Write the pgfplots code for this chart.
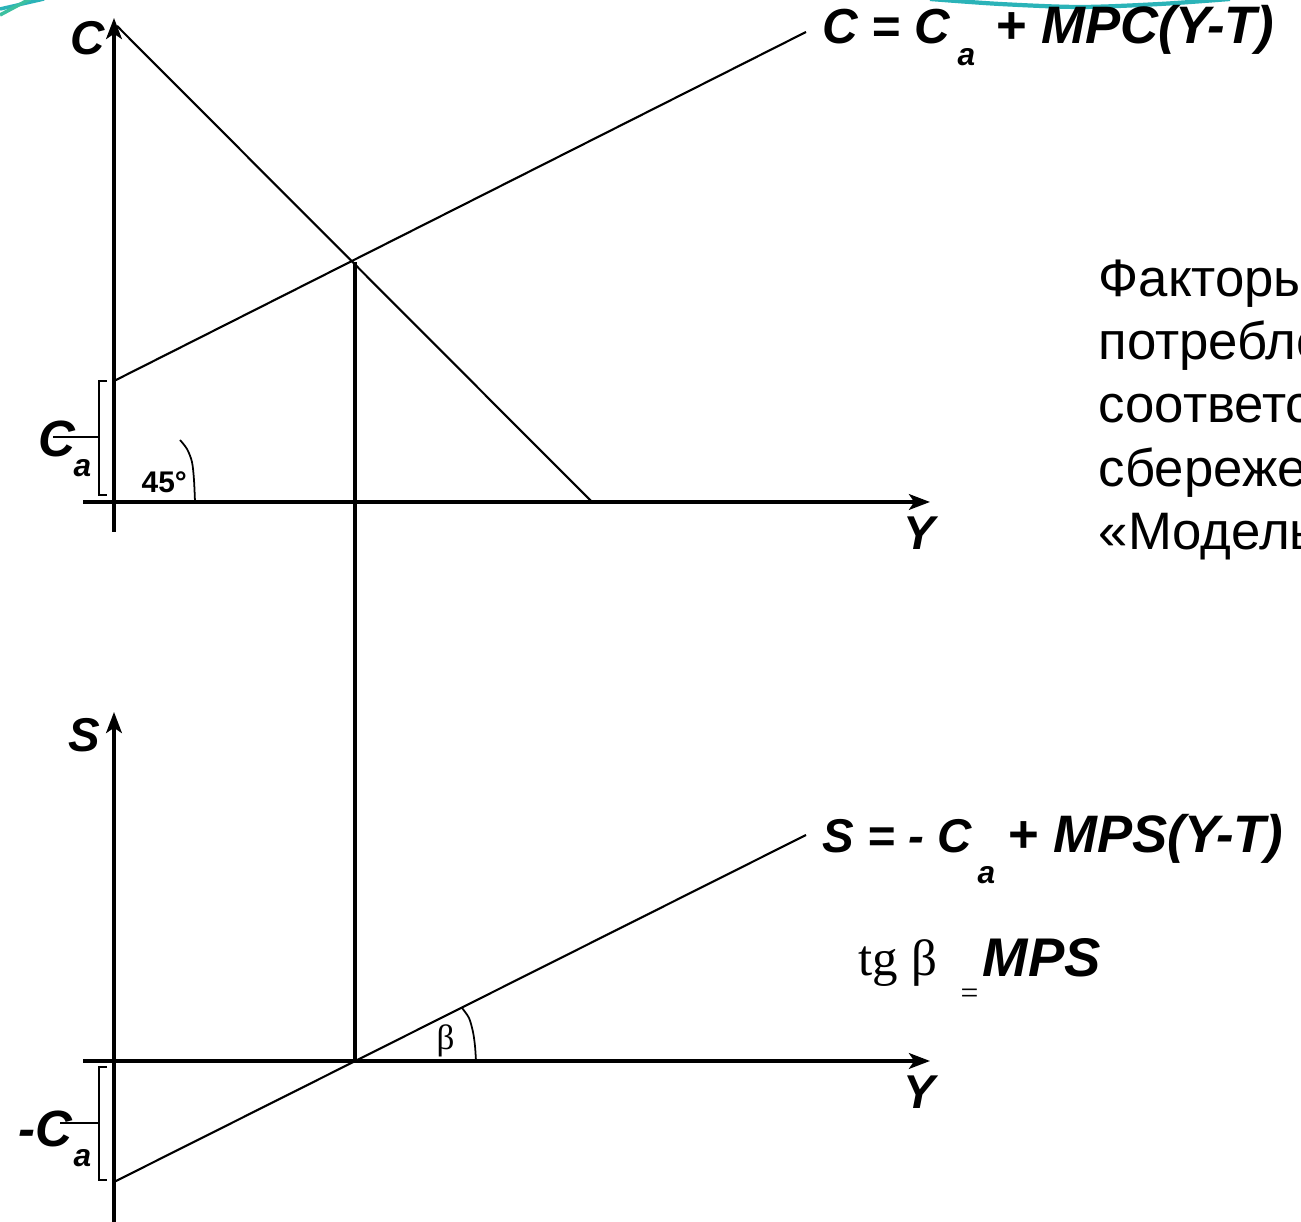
\documentclass[border=0pt]{standalone}
\usepackage{fontspec}
\setmainfont{Liberation Sans}
\newfontfamily\timesf{Liberation Serif}
\usepackage{pgfplots}
\pgfplotsset{compat=1.18}
\usetikzlibrary{arrows.meta}
\definecolor{tealA}{HTML}{2BB3B8}
\definecolor{tealB}{HTML}{3CC0A0}
\newcommand{\fs}[1]{\fontsize{#1}{#1}\selectfont}
\tikzset{
    lbl/.style={inner sep=0pt, anchor=base west},
    big/.style={font=\fs{13.5pt}\bfseries\itshape},
    eq/.style={font=\fs{15pt}\bfseries\itshape},
    sub/.style={font=\fs{9pt}\bfseries\itshape},
    ax/.style={line width=0.9pt, -{Stealth[length=6pt,width=4.5pt,inset=1.5pt]}},
}

\begin{document}
\begin{tikzpicture}
\useasboundingbox (0,0) rectangle (13.01,12.22);
\clip (0,0) rectangle (13.01,12.22);
\fill[white] (0,0) rectangle (13.01,12.22);
\begin{axis}[
    at={(0,0)}, anchor=south west,
    scale only axis, width=13.01cm, height=12.22cm,
    xmin=0, xmax=1301, ymin=0, ymax=1222, y dir=reverse,
    hide axis, clip=false,
    every axis plot/.append style={black},
]
% axes
\addplot[ax] coordinates {(114,532) (114,18)};
\addplot[ax] coordinates {(83,502) (930,502)};
\addplot[ax] coordinates {(114,1222) (114,712)};
\addplot[ax] coordinates {(83,1061) (930,1061)};
% lines
\addplot[line width=0.6pt] coordinates {(117,26) (592,502)};
\addplot[line width=0.6pt] coordinates {(114,381) (806,32)};
\addplot[line width=0.9pt] coordinates {(355,262) (355,1061)};
\addplot[line width=0.6pt] coordinates {(114,1182) (806,835)};
% brackets
\addplot[line width=0.5pt] coordinates {(107,381) (99,381) (99,495) (107,495)};
\addplot[line width=0.5pt] coordinates {(53,437) (99,437)};
\addplot[line width=0.5pt] coordinates {(107,1067) (99,1067) (99,1180) (107,1180)};
\addplot[line width=0.5pt] coordinates {(60,1123) (99,1123)};
% angle arcs
\addplot[line width=0.5pt, smooth] coordinates {(180,440) (187,449) (192,462) (194,480) (195,502)};
\addplot[line width=0.5pt, smooth] coordinates {(462,1008) (469,1018) (473,1032) (475,1046) (476,1061)};
% slide decoration
\addplot[tealA, line width=1pt] coordinates {(0,9) (44,-1)};
\addplot[tealB, line width=1pt] coordinates {(0,15) (30,-1)};
\addplot[tealA, line width=1.2pt, smooth] coordinates {(930,-1) (1000,4) (1080,7) (1160,4) (1230,-1)};

% labels
\node[lbl, big] at (axis cs:70,55) {C};
\node[lbl, big] at (axis cs:68,752) {S};
\node[lbl, big] at (axis cs:903,550) {Y};
\node[lbl, big] at (axis cs:903,1109) {Y};
\node[lbl, font=\fs{14.5pt}\bfseries\itshape] at (axis cs:38,457) {C};
\node[lbl, sub] at (axis cs:73,477) {a};
\node[lbl, font=\fs{14.5pt}\bfseries\itshape] at (axis cs:18,1147) {-C};
\node[lbl, sub] at (axis cs:73,1167) {a};
\node[lbl, font=\fs{8.5pt}\bfseries] at (axis cs:141,493) {45°};
\node[lbl, font=\fs{10pt}\timesf] at (axis cs:436,1050) {β};

\node[lbl, font=\fs{14pt}\bfseries\itshape] at (axis cs:822,44) {C = C};
\node[lbl, sub] at (axis cs:957,66) {a};
\node[lbl, eq] at (axis cs:995,44) {+ MPC(Y-T)};
\node[lbl, big] at (axis cs:822,853) {S = - C};
\node[lbl, sub] at (axis cs:977,884) {a};
\node[lbl, eq] at (axis cs:1007,853) {+ MPS(Y-T)};
\node[lbl, font=\fs{14.5pt}\timesf] at (axis cs:858,976) {tg β};
\node[lbl, font=\fs{9pt}\timesf] at (axis cs:960,1004) {=};
\node[lbl, font=\fs{15.5pt}\bfseries\itshape] at (axis cs:982,977) {MPS};

\node[lbl, font=\fs{15pt}] at (axis cs:1098,297) {Факторы, влияющие на};
\node[lbl, font=\fs{15pt}] at (axis cs:1098,360) {потребление,};
\node[lbl, font=\fs{15pt}] at (axis cs:1098,423) {соответственно};
\node[lbl, font=\fs{15pt}] at (axis cs:1098,487) {сбережения};
\node[lbl, font=\fs{15pt}] at (axis cs:1098,550) {«Модель};
\end{axis}
\end{tikzpicture}
\end{document}
